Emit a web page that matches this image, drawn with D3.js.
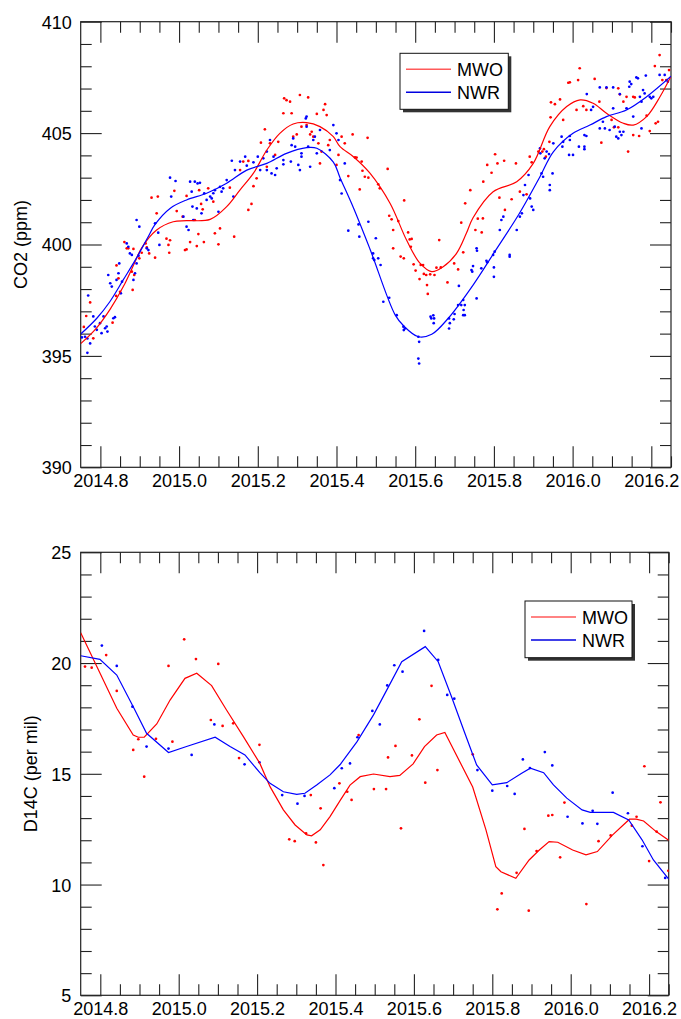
<!DOCTYPE html>
<html><head><meta charset="utf-8">
<script src="https://cdn.jsdelivr.net/npm/d3@7"></script>
<style>
body{margin:0;background:#fff}
svg{display:block}
text{font-family:"Liberation Sans",Arial,Helvetica,sans-serif;fill:#000}
</style>
</head><body>
<svg id="chart" width="681" height="1019"></svg>
<script>
// ---------- DATA ----------
const seriesNames = ["MWO", "NWR"];
const xTickLabels = [2014.8, 2015.0, 2015.2, 2015.4, 2015.6, 2015.8, 2016.0, 2016.2];
const co2TickLabels = [390, 395, 400, 405, 410];
const d14TickLabels = [5, 10, 15, 20, 25];

// CO2 (ppm) flask samples
const mwoCo2Points = [
[2014.758,396.3],[2014.764,396.79],[2014.774,397.40],[2014.782,395.79],[2014.831,396.49],[2014.840,397.69],[2014.841,399.06],[2014.846,398.48],[2014.850,397.88],[2014.861,400.11],[2014.867,399.83],[2014.871,399.83],[2014.880,398.78],[2014.882,397.96],[2014.884,399.80],[2014.886,398.63],[2014.899,399.38],[2014.905,399.63],[2014.915,400.05],[2014.918,399.87],[2014.924,399.60],[2014.939,399.41],[2014.973,399.98],[2014.975,399.63],[2015.015,399.75],[2015.019,399.78],[2015.049,400.47],
[2014.930,402.10],[2014.943,401.40],[2014.946,402.15],[2014.968,400.26],[2014.977,400.19],[2014.988,402.41],[2014.994,401.50],[2015.009,401.25],[2015.019,402.18],[2015.028,400.11],[2015.040,401.10],[2015.045,399.93],[2015.051,402.44],[2015.056,401.82],[2015.060,401.58],[2015.063,400.11],[2015.074,402.52],[2015.087,401.92],[2015.091,400.50],[2015.100,400.01],[2015.104,400.72],[2015.129,402.55],[2015.140,400.35],[2015.155,403.34],[2015.163,403.72],[2015.176,403.75],[2015.176,401.55],[2015.184,401.82],[2015.189,402.62],[2015.197,402.97],[2015.208,404.57],[2015.218,405.17],[2015.223,403.49],[2015.231,404.54],[2015.244,404.02],[2015.252,404.61],[2015.265,405.89],[2015.267,406.56],[2015.273,406.48],[2015.282,406.41],[2015.286,405.89],[2015.290,404.84],[2015.299,404.94],[2015.307,406.71],[2015.311,405.29],[2015.324,405.36],[2015.328,406.60],[2015.333,404.94],[2015.337,405.06],[2015.341,404.84],[2015.350,405.86],[2015.354,404.54],[2015.358,403.64],[2015.362,404.17],[2015.367,406.04],[2015.371,406.30],[2015.375,405.81],[2015.379,404.46],[2015.383,404.69],[2015.400,403.57],[2015.405,404.02],
[2015.413,404.84],[2015.421,404.54],[2015.430,403.07],[2015.441,404.94],[2015.447,403.91],[2015.451,403.90],[2015.459,402.47],[2015.464,403.72],[2015.466,403.31],[2015.472,403.04],[2015.479,404.79],[2015.481,403.00],[2015.506,402.70],[2015.510,402.52],[2015.530,403.39],[2015.534,401.29],[2015.540,401.13],[2015.544,400.65],[2015.544,399.83],[2015.557,401.05],[2015.572,401.98],[2015.582,400.54],[2015.591,400.25],[2015.661,400.20],[2015.717,400.98],[2015.727,401.85],[2015.740,402.44],[2015.753,400.65],[2015.759,401.16],[2015.769,400.54],[2015.772,401.17],[2015.773,402.82],[2015.783,403.57],[2015.794,403.22],[2015.803,404.05],[2015.809,403.64],[2015.814,402.10],[2015.826,403.76],[2015.828,401.55],[2015.845,402.03],[2015.856,403.64],[2015.866,402.37],[2015.883,402.25],[2015.891,403.94],[2015.896,403.69],[2015.913,404.17],[2015.923,404.17],[2015.927,404.28],[2015.932,403.94],[2015.941,404.61],[2015.944,405.71],[2015.945,406.38],[2015.955,406.30],[2015.968,406.51],[2015.976,405.59],[2015.989,407.26],[2015.993,407.28],[2016.010,406.04],[2016.014,407.38],[2016.018,407.91],[2016.027,406.21],[2016.035,406.04],[2016.056,407.43],[2016.068,406.41],[2016.073,404.57],[2016.086,407.02],[2016.099,405.59],[2016.105,405.26],[2016.116,405.26],[2016.116,407.01],[2016.120,406.74],[2016.129,406.41],[2016.137,406.63],[2016.141,404.17],[2016.154,406.63],[2016.154,404.91],[2016.158,406.60],[2016.169,404.87],[2016.188,405.78],[2016.196,405.09],[2016.209,408.01],[2016.211,405.44],[2016.217,405.51],[2016.221,408.50],[2016.228,407.38],[2016.238,407.38],[2016.245,407.83],
[2015.563,399.46],[2015.571,399.38],[2015.586,400.23],[2015.589,399.90],[2015.596,399.11],[2015.601,398.83],[2015.611,398.45],[2015.614,399.08],[2015.620,399.08],[2015.622,398.68],[2015.628,398.63],[2015.630,398.18],[2015.632,397.78],[2015.638,398.66],[2015.649,398.63],[2015.654,398.96],[2015.665,398.97],[2015.682,398.30],[2015.699,399.15],[2015.709,398.88],[2015.722,399.65]
];
const nwrCo2Points = [
[2014.753,395.83],[2014.761,395.86],[2014.767,395.78],[2014.769,397.71],[2014.774,395.56],[2014.767,395.14],[2014.782,396.77],[2014.786,396.32],[2014.791,396.17],[2014.799,396.47],[2014.803,396.02],[2014.808,396.77],[2014.812,396.24],[2014.816,396.32],[2014.818,396.09],[2014.820,398.63],[2014.825,398.26],[2014.829,398.11],[2014.833,396.69],[2014.837,396.74],[2014.841,398.41],[2014.846,398.71],[2014.848,399.15],[2014.852,397.81],[2014.855,398.33],[2014.867,400.05],[2014.871,399.90],[2014.875,399.60],[2014.880,399.53],[2014.884,398.41],[2014.888,398.71],[2014.892,399.15],[2014.897,399.50],[2014.918,399.83],[2014.922,399.75],[2014.947,400.53],[2014.950,399.98],
[2014.892,401.10],[2014.899,400.80],[2014.939,400.95],[2014.977,403.00],[2014.980,402.15],[2014.991,402.85],[2015.011,401.25],[2015.019,400.80],[2015.024,400.65],[2015.028,402.82],[2015.032,402.37],[2015.034,401.70],[2015.036,401.10],[2015.040,402.82],[2015.045,401.62],[2015.047,402.74],[2015.053,402.77],[2015.057,401.40],[2015.064,402.30],[2015.070,402.00],[2015.079,402.15],[2015.083,402.07],[2015.087,402.30],[2015.091,402.44],[2015.100,401.47],[2015.104,402.59],[2015.108,402.37],[2015.112,402.52],[2015.121,402.89],[2015.134,403.76],[2015.138,402.15],[2015.142,403.34],[2015.155,403.72],[2015.168,403.94],[2015.172,403.54],[2015.189,403.69],[2015.200,403.94],[2015.206,403.34],[2015.214,403.87],[2015.223,404.17],[2015.223,403.34],[2015.231,404.69],[2015.235,403.19],[2015.240,403.94],[2015.244,403.12],[2015.248,403.42],[2015.265,403.79],[2015.265,403.60],[2015.284,403.72],[2015.286,404.46],[2015.290,404.76],[2015.295,404.39],[2015.303,403.57],[2015.307,403.34],[2015.311,404.09],[2015.311,403.94],[2015.322,405.66],[2015.324,405.74],[2015.324,405.29],[2015.328,404.39],[2015.333,403.49],[2015.341,404.69],[2015.345,404.84],[2015.350,404.09],[2015.358,405.14],[2015.383,404.24],[2015.392,405.36],[2015.400,404.99],[2015.405,404.69],
[2015.409,402.89],[2015.413,402.29],[2015.421,403.64],[2015.430,400.62],[2015.456,400.90],[2015.458,400.35],[2015.481,401.02],[2015.500,400.28],[2015.756,399.83],[2015.815,400.65],[2015.819,401.10],[2015.824,401.25],[2015.858,400.65],[2015.866,401.25],[2015.871,401.40],[2015.875,402.22],[2015.879,402.67],[2015.888,403.12],[2015.892,402.07],[2015.896,401.70],[2015.900,401.55],[2015.917,404.31],[2015.918,404.09],[2015.921,403.19],[2015.925,403.04],[2015.929,403.87],[2015.934,404.17],[2015.940,404.06],[2015.942,402.44],[2015.942,402.67],[2015.949,403.19],[2015.951,404.54],[2015.972,404.84],[2015.974,404.39],[2015.976,404.61],[2015.991,404.02],[2015.993,404.87],[2015.993,404.69],[2016.001,404.02],[2016.016,404.39],[2016.030,404.39],[2016.030,404.28],[2016.030,404.91],[2016.035,404.87],[2016.036,406.75],[2016.047,406.04],[2016.052,406.18],[2016.069,407.05],[2016.069,405.21],[2016.077,405.51],[2016.082,405.21],[2016.086,407.05],[2016.094,405.14],[2016.103,407.05],[2016.103,406.11],[2016.107,405.29],[2016.111,404.84],[2016.116,404.76],[2016.120,406.75],[2016.120,405.06],[2016.124,404.91],[2016.129,405.06],[2016.137,406.11],[2016.144,407.08],[2016.145,407.31],[2016.149,407.20],[2016.154,405.74],[2016.162,407.50],[2016.166,407.46],[2016.171,406.63],[2016.175,406.41],[2016.175,405.21],[2016.179,406.93],[2016.183,406.78],[2016.186,407.58],[2016.196,406.63],[2016.200,406.56],[2016.205,406.63],[2016.221,407.61],[2016.234,407.61],[2016.242,407.31],
[2015.493,399.60],[2015.493,399.38],[2015.496,399.30],[2015.506,399.38],[2015.512,399.08],[2015.519,397.43],[2015.534,397.61],[2015.553,396.83],[2015.570,396.31],[2015.571,396.16],[2015.574,396.23],[2015.608,395.86],[2015.610,395.63],[2015.608,394.88],[2015.610,394.66],[2015.639,396.76],[2015.641,396.68],[2015.646,396.82],[2015.648,396.68],[2015.647,396.47],[2015.686,396.68],[2015.688,396.47],[2015.686,396.23],[2015.698,396.64],[2015.700,396.88],[2015.709,397.28],[2015.711,398.14],[2015.717,397.28],[2015.722,397.51],[2015.723,397.06],[2015.726,396.83],[2015.726,397.28],[2015.722,396.83],[2015.743,398.85],[2015.745,398.78],[2015.747,399.03],[2015.756,397.58],[2015.757,399.72],[2015.768,398.93],[2015.781,399.27],[2015.783,399.20],[2015.798,399.53],[2015.802,399.68],[2015.800,398.97],[2015.800,398.55],[2015.840,399.53],[2015.840,399.45]
];
// CO2 smooth fits
const mwoCo2Fit = [[2014.75,395.55],[2014.79,396.25],[2014.825,397.1],[2014.858,398.1],[2014.885,399.1],[2014.905,399.85],[2014.943,400.65],[2014.985,401.02],[2015.019,401.07],[2015.079,401.13],[2015.121,401.70],[2015.155,402.45],[2015.189,403.20],[2015.223,404.24],[2015.256,404.99],[2015.290,405.41],[2015.324,405.47],[2015.358,405.29],[2015.392,404.84],[2015.409,404.39],[2015.443,403.94],[2015.485,403.20],[2015.536,401.85],[2015.578,400.2],[2015.612,399.16],[2015.642,398.78],[2015.671,399.0],[2015.705,399.6],[2015.730,400.5],[2015.747,401.2],[2015.798,402.37],[2015.858,402.82],[2015.900,403.64],[2015.942,405.29],[2015.985,406.19],[2016.019,406.49],[2016.052,406.34],[2016.086,405.89],[2016.129,405.44],[2016.154,405.36],[2016.188,405.74],[2016.222,406.63],[2016.25,407.55]];
const nwrCo2Fit = [[2014.75,395.98],[2014.791,396.69],[2014.824,397.43],[2014.858,398.41],[2014.892,399.4],[2014.92,400.3],[2014.939,400.9],[2014.977,401.62],[2015.019,402.0],[2015.070,402.30],[2015.121,402.75],[2015.172,403.34],[2015.223,403.64],[2015.273,404.09],[2015.324,404.35],[2015.350,404.32],[2015.392,403.7],[2015.409,403.0],[2015.443,401.65],[2015.485,399.8],[2015.549,396.84],[2015.571,396.34],[2015.608,395.86],[2015.642,395.97],[2015.684,396.69],[2015.747,398.18],[2015.803,399.7],[2015.865,401.40],[2015.917,403.04],[2015.951,404.16],[2016.001,404.99],[2016.044,405.36],[2016.086,405.74],[2016.137,406.04],[2016.188,406.63],[2016.25,407.55]];

// D14C (per mil)
const mwoD14Points = [[2014.761,19.84],[2014.778,19.79],[2014.815,20.36],[2014.842,18.74],[2014.884,16.08],[2014.897,16.56],[2014.912,14.87],[2014.942,16.58],[2014.974,19.87],[2014.984,16.45],[2015.014,21.07],[2015.044,20.18],[2015.082,17.43],[2015.101,19.96],[2015.112,17.16],[2015.139,17.28],[2015.154,15.71],[2015.206,16.31],[2015.282,12.04],[2015.296,11.96],[2015.325,12.31],[2015.337,14.04],[2015.350,11.90],[2015.362,13.44],[2015.369,10.88],[2015.410,14.57],[2015.430,14.19],[2015.441,13.82],[2015.459,16.75],[2015.498,14.31],[2015.529,14.31],[2015.534,15.74],[2015.553,16.26],[2015.567,12.54],[2015.595,15.83],[2015.614,17.46],[2015.629,14.60],[2015.645,18.97],[2015.660,15.17],[2015.750,15.88],[2015.813,8.88],[2015.824,9.60],[2015.862,10.53],[2015.882,12.51],[2015.893,8.82],[2015.913,11.51],[2015.943,13.11],[2015.953,13.14],[2015.973,11.23],[2015.984,13.70],[2016.040,9.12],[2016.071,11.96],[2016.102,12.22],[2016.156,12.66],[2016.168,13.06],[2016.188,15.34],[2016.200,11.06],[2016.219,12.39],[2016.229,13.71],[2016.249,10.62]];
const nwrD14Points = [[2014.804,20.79],[2014.842,19.87],[2014.882,18.03],[2014.918,16.23],[2014.974,16.14],[2015.033,15.85],[2015.091,17.23],[2015.168,15.43],[2015.206,15.52],[2015.264,14.04],[2015.303,13.65],[2015.321,14.00],[2015.397,14.35],[2015.416,15.25],[2015.437,15.47],[2015.456,16.65],[2015.494,17.84],[2015.513,17.23],[2015.532,18.99],[2015.550,19.90],[2015.571,19.61],[2015.626,21.45],[2015.662,20.14],[2015.685,18.56],[2015.703,18.39],[2015.762,15.17],[2015.800,14.24],[2015.838,14.45],[2015.857,14.09],[2015.878,15.65],[2015.896,15.26],[2015.934,15.98],[2015.953,15.38],[2015.992,13.06],[2016.030,12.76],[2016.056,13.33],[2016.068,12.74],[2016.107,14.15],[2016.146,13.22],[2016.183,11.73],[2016.241,10.30]];
const mwoD14Fit = [[2014.75,21.37],[2014.842,17.96],[2014.884,16.75],[2014.897,16.65],[2014.912,16.65],[2014.944,17.25],[2014.978,18.33],[2015.016,19.31],[2015.046,19.54],[2015.084,18.98],[2015.122,17.88],[2015.165,16.68],[2015.207,15.47],[2015.233,14.42],[2015.267,13.37],[2015.297,12.69],[2015.327,12.24],[2015.339,12.20],[2015.361,12.47],[2015.386,13.07],[2015.412,13.80],[2015.437,14.49],[2015.463,14.87],[2015.497,14.99],[2015.539,14.87],[2015.564,14.93],[2015.598,15.45],[2015.627,16.23],[2015.658,16.75],[2015.679,16.87],[2015.750,14.4],[2015.784,12.46],[2015.809,10.81],[2015.822,10.58],[2015.860,10.28],[2015.894,11.11],[2015.920,11.56],[2015.945,11.94],[2015.967,11.91],[2016.005,11.56],[2016.039,11.34],[2016.068,11.49],[2016.107,12.24],[2016.150,12.95],[2016.167,12.95],[2016.186,12.87],[2016.218,12.39],[2016.25,12.0]];
const nwrD14Fit = [[2014.75,20.33],[2014.799,20.17],[2014.842,19.46],[2014.884,18.03],[2014.918,16.83],[2014.974,15.96],[2015.020,16.23],[2015.093,16.65],[2015.131,16.23],[2015.169,15.85],[2015.207,15.05],[2015.233,14.57],[2015.267,14.19],[2015.301,14.07],[2015.322,14.12],[2015.352,14.49],[2015.386,14.95],[2015.412,15.42],[2015.455,16.45],[2015.497,17.66],[2015.531,18.79],[2015.569,20.06],[2015.629,20.74],[2015.662,20.06],[2015.696,18.48],[2015.730,16.83],[2015.760,15.40],[2015.800,14.50],[2015.837,14.60],[2015.875,15.02],[2015.897,15.25],[2015.931,15.05],[2015.956,14.50],[2015.990,13.90],[2016.029,13.37],[2016.050,13.26],[2016.109,13.26],[2016.148,12.92],[2016.182,12.02],[2016.211,11.11],[2016.25,10.25]];

// ---------- DRAW ----------
const svg = d3.select("#chart");
const colors = {MWO: "#ff0000", NWR: "#0000ff"};
const legendColors = {MWO: "#ff5a5a", NWR: "#0000e0"};
const xDomain = [2014.75, 2016.25];

function drawPanel(cfg) {
  const x = d3.scaleLinear().domain(xDomain).range([cfg.left, cfg.right]);
  const y = d3.scaleLinear().domain(cfg.yDomain).range([cfg.bottom, cfg.top]);
  const g = svg.append("g");
  const clipId = "clip" + cfg.id;
  svg.append("clipPath").attr("id", clipId).append("rect")
    .attr("x", cfg.left).attr("y", cfg.top)
    .attr("width", cfg.right - cfg.left).attr("height", cfg.bottom - cfg.top);

  const xMinor = d3.range(2014.8, 2016.26, 0.05).map(v => +v.toFixed(2)).filter(v => !xTickLabels.some(t => Math.abs(t - v) < 1e-6));
  const yMinor = d3.range(cfg.yDomain[0], cfg.yDomain[1] + 0.001, 1).filter(v => !cfg.yTicks.includes(v));
  const fmtX = d3.format(".1f");

  function styleAxis(sel) {
    sel.select(".domain").remove();
    sel.selectAll("line").attr("stroke", "#222").attr("stroke-width", 1.1);
    sel.selectAll("text").style("font-size", "18px").attr("fill", "#000");
  }
  // bottom
  g.append("g").attr("transform", `translate(0,${cfg.bottom})`)
    .call(d3.axisBottom(x).tickValues(xTickLabels).tickFormat(fmtX).tickSize(-21).tickPadding(7))
    .call(styleAxis);
  g.append("g").attr("transform", `translate(0,${cfg.bottom})`)
    .call(d3.axisBottom(x).tickValues(xMinor).tickFormat("").tickSize(-11)).call(styleAxis);
  // top
  g.append("g").attr("transform", `translate(0,${cfg.top})`)
    .call(d3.axisTop(x).tickValues(xTickLabels).tickFormat("").tickSize(-21)).call(styleAxis);
  g.append("g").attr("transform", `translate(0,${cfg.top})`)
    .call(d3.axisTop(x).tickValues(xMinor).tickFormat("").tickSize(-11)).call(styleAxis);
  // left
  g.append("g").attr("transform", `translate(${cfg.left},0)`)
    .call(d3.axisLeft(y).tickValues(cfg.yTicks).tickFormat(d3.format("d")).tickSize(-21).tickPadding(cfg.yPad))
    .call(styleAxis);
  g.append("g").attr("transform", `translate(${cfg.left},0)`)
    .call(d3.axisLeft(y).tickValues(yMinor).tickFormat("").tickSize(-11)).call(styleAxis);
  // right
  g.append("g").attr("transform", `translate(${cfg.right},0)`)
    .call(d3.axisRight(y).tickValues(cfg.yTicks).tickFormat("").tickSize(-21)).call(styleAxis);
  g.append("g").attr("transform", `translate(${cfg.right},0)`)
    .call(d3.axisRight(y).tickValues(yMinor).tickFormat("").tickSize(-11)).call(styleAxis);

  g.selectAll("text").filter(function(){ return this.parentNode.parentNode && d3.select(this.parentNode.parentNode).attr("transform") && d3.select(this.parentNode.parentNode).attr("transform").startsWith("translate(" + cfg.left); })
    .attr("dy", "0.36em");

  // frame
  g.append("rect").attr("x", cfg.left).attr("y", cfg.top)
    .attr("width", cfg.right - cfg.left).attr("height", cfg.bottom - cfg.top)
    .attr("fill", "none").attr("stroke", "#222").attr("stroke-width", 1.2);

  // data
  const plot = g.append("g").attr("clip-path", `url(#${clipId})`);
  cfg.series.forEach(s => {
    plot.append("g").selectAll("circle").data(s.points).join("circle")
      .attr("cx", d => x(d[0])).attr("cy", d => y(d[1])).attr("r", 1.35)
      .attr("fill", colors[s.name]);
  });
  cfg.series.forEach(s => {
    const line = d3.line().x(d => x(d[0])).y(d => y(d[1])).curve(cfg.curve);
    plot.append("path").datum(s.fit).attr("d", line)
      .attr("fill", "none").attr("stroke", colors[s.name]).attr("stroke-width", 1.2);
  });

  // axis title
  svg.append("text")
    .attr("transform", `translate(${cfg.titleX},${(cfg.top + cfg.bottom) / 2}) rotate(-90)`)
    .attr("text-anchor", "middle").style("font-size", "18px").text(cfg.title);

  // legend
  const L = cfg.legend;
  const lg = svg.append("g");
  lg.append("rect").attr("x", L.x + 3).attr("y", L.y + 3).attr("width", L.w).attr("height", L.h).attr("fill", "#333");
  lg.append("rect").attr("x", L.x).attr("y", L.y).attr("width", L.w).attr("height", L.h)
    .attr("fill", "#fff").attr("stroke", "#111").attr("stroke-width", 1);
  seriesNames.forEach((name, i) => {
    const ly = L.y + 16 + i * 23;
    lg.append("line").attr("x1", L.x + 6).attr("x2", L.x + 51).attr("y1", ly).attr("y2", ly)
      .attr("stroke", legendColors[name]).attr("stroke-width", 1.4);
    lg.append("text").attr("x", L.x + 57).attr("y", ly + 7).style("font-size", "18px").text(name);
  });
}

drawPanel({
  id: "top", left: 80.7, right: 671, top: 21.7, bottom: 467.3,
  yDomain: [390, 410], yTicks: co2TickLabels, yPad: 9,
  title: "CO2 (ppm)", titleX: 26.5, curve: d3.curveCatmullRom.alpha(0.5),
  series: [{name: "MWO", points: mwoCo2Points, fit: mwoCo2Fit}, {name: "NWR", points: nwrCo2Points, fit: nwrCo2Fit}],
  legend: {x: 400, y: 53.3, w: 108.3, h: 56}
});
drawPanel({
  id: "bot", left: 80.7, right: 668.7, top: 552.3, bottom: 995.3,
  yDomain: [5, 25], yTicks: d14TickLabels, yPad: 9.5,
  title: "D14C (per mil)", titleX: 36.5, curve: d3.curveLinear,
  series: [{name: "MWO", points: mwoD14Points, fit: mwoD14Fit}, {name: "NWR", points: nwrD14Points, fit: nwrD14Fit}],
  legend: {x: 525, y: 601, w: 107, h: 56.7}
});
</script>
</body></html>
